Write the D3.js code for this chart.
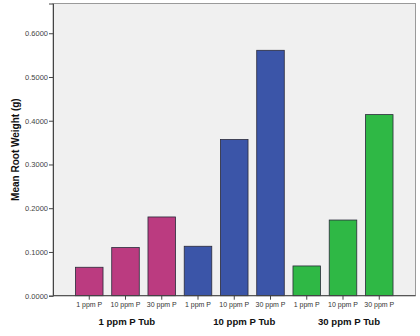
<!DOCTYPE html>
<html><head><meta charset="utf-8">
<script src="https://cdn.jsdelivr.net/npm/d3@7"></script>
<style>body{margin:0;background:#fff}svg{display:block;font-family:"Liberation Sans",Arial,sans-serif}</style>
</head><body><svg id="c" width="420" height="336"></svg>
<script>
const groups = ["1 ppm P Tub", "10 ppm P Tub", "30 ppm P Tub"];
const subLabels = ["1 ppm P", "10 ppm P", "30 ppm P"];
const values = [
  [0.065, 0.110, 0.180],
  [0.113, 0.357, 0.561],
  [0.068, 0.173, 0.414]
];
const groupColors = ["#bb3b80", "#3b55a8", "#2fb845"];
const yTicks = [0, 0.1, 0.2, 0.3, 0.4, 0.5, 0.6];
const yMax = 0.668;

const rows = [];
groups.forEach((g, gi) => subLabels.forEach((s, si) => rows.push({key: gi + "-" + si, g, gi, s, v: values[gi][si]})));

const svg = d3.select("#c");
const L = 53, R = 415.5, T = 3.5, B = 295.7;
const x = d3.scaleBand().domain(rows.map(d => d.key)).range([L, R]).paddingInner(0.24).paddingOuter(0.62);
const y = d3.scaleLinear().domain([0, yMax]).range([B, T]);

svg.append("rect").attr("x", L).attr("y", T).attr("width", R - L).attr("height", B - T)
  .attr("fill", "#f0f0f0").attr("stroke", "#9a9a9a").attr("stroke-width", 1);

svg.selectAll("rect.bar").data(rows).join("rect").attr("class", "bar")
  .attr("x", d => x(d.key)).attr("width", x.bandwidth())
  .attr("y", d => y(d.v)).attr("height", d => y(0) - y(d.v))
  .attr("fill", d => groupColors[d.gi]).attr("stroke", "#2a2a3a").attr("stroke-width", 0.8);

const yAxis = svg.append("g").attr("transform", `translate(${L},0)`)
  .call(d3.axisLeft(y).tickValues(yTicks).tickFormat(d3.format(".4f")).tickSize(4).tickPadding(1));
yAxis.select(".domain").attr("stroke", "#444");
yAxis.selectAll(".tick line").attr("stroke", "#444");
yAxis.selectAll("text").attr("font-size", 7.5).attr("fill", "#444").attr("font-family", "Liberation Sans, Arial, sans-serif");

const xAxis = svg.append("g").attr("transform", `translate(0,${B})`)
  .call(d3.axisBottom(x).tickFormat(k => rows.find(r => r.key === k).s).tickSize(4).tickPadding(2));
xAxis.select(".domain").attr("stroke", "#444").attr("d", `M${L},0H${R}`);
xAxis.selectAll(".tick line").attr("stroke", "#444");
xAxis.selectAll("text").attr("font-size", 7).attr("fill", "#333").attr("font-family", "Liberation Sans, Arial, sans-serif");

const gOff = [1.3, 10, 6];
svg.selectAll("text.grp").data(groups).join("text").attr("class", "grp")
  .attr("x", (g, gi) => x(gi + "-1") + x.bandwidth() / 2 + gOff[gi]).attr("y", 324.5)
  .attr("text-anchor", "middle").attr("font-size", 9.6).attr("font-weight", "bold").attr("fill", "#111")
  .text(d => d);

svg.append("text").attr("transform", `translate(18.5,${(T + B) / 2}) rotate(-90)`)
  .attr("text-anchor", "middle").attr("font-size", 10).attr("font-weight", "bold").attr("fill", "#111")
  .text("Mean Root Weight (g)");
</script></body></html>
